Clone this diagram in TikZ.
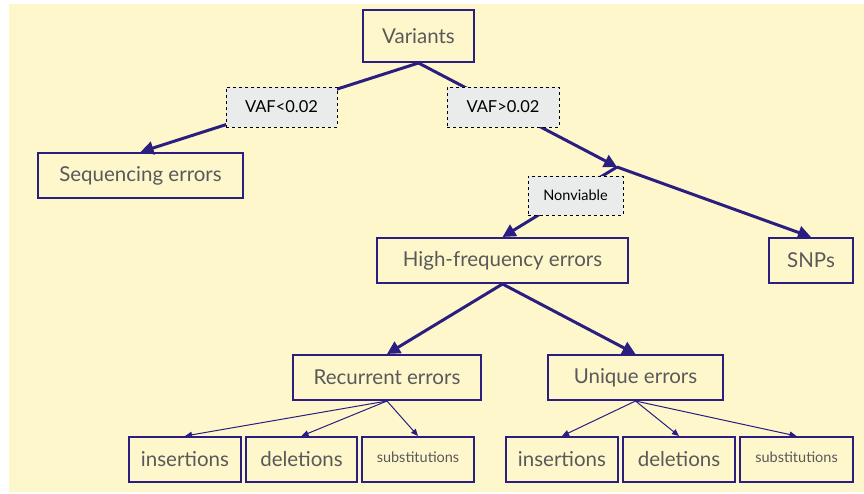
\documentclass[tikz,border=0pt]{standalone}
\usepackage{fontspec}
\setmainfont{Lato}
\usetikzlibrary{arrows.meta}
\definecolor{bgyellow}{HTML}{FFF7CC}
\definecolor{navy}{HTML}{2A1F80}
\definecolor{txtgray}{HTML}{595959}
\definecolor{labfill}{HTML}{E9ECEA}
\tikzset{
  box/.style={draw=navy, line width=2pt, fill=none, text=txtgray, inner sep=0pt,
    font=\fontsize{20.5}{24}\selectfont},
  smallbox/.style={box, font=\fontsize{14.5}{17}\selectfont},
  cond/.style={draw=black, dashed, line width=0.8pt, fill=labfill, text=black,
    inner sep=0pt, font=\fontsize{16.5}{19}\selectfont},
  thickarrow/.style={draw=navy, line width=3pt, -{Triangle[length=13pt,width=13pt]}},
  thinarrow/.style={draw=navy, line width=1pt, -{Triangle[length=7pt,width=6pt]}}
}
\begin{document}
\begin{tikzpicture}[x=1pt,y=-1pt]
\useasboundingbox (0,0) rectangle (864,494);
\fill[bgyellow] (9,4) rectangle (864,492);

% decision boxes
\node[box, minimum width=111pt, minimum height=52pt] (var) at (418.5,36) {Variants};
\node[box, minimum width=205pt, minimum height=45pt] (seq) at (140.5,175.5) {Sequencing errors};
\node[box, minimum width=251pt, minimum height=45pt] (hfe) at (502.5,260.5) {High-frequency errors};
\node[box, minimum width=84pt, minimum height=45pt] (snp) at (811,260.5) {SNPs};
\node[box, minimum width=188pt, minimum height=45pt] (rec) at (387,377.5) {Recurrent errors};
\node[box, minimum width=175pt, minimum height=45pt] (uni) at (635.5,377.5) {Unique errors};

% leaves
\node[box, minimum width=112pt, minimum height=45pt] (ins1) at (185,459.5) {insertions};
\node[box, minimum width=111pt, minimum height=45pt] (del1) at (301.5,459.5) {deletions};
\node[smallbox, minimum width=112pt, minimum height=45pt, text depth=0pt] (sub1) at (418,459.5) {\raisebox{4pt}{substitutions}};
\node[box, minimum width=112pt, minimum height=45pt] (ins2) at (562,459.5) {insertions};
\node[box, minimum width=112pt, minimum height=45pt] (del2) at (679,459.5) {deletions};
\node[smallbox, minimum width=113pt, minimum height=45pt, text depth=0pt] (sub2) at (796.5,459.5) {\raisebox{4pt}{substitutions}};

% split point on the right branch
\coordinate (split) at (617,167);

% thick connectors
\draw[thickarrow] (var.south) -- (seq.north);
\draw[thickarrow] (var.south) -- (split);
\draw[thickarrow] (split) -- (hfe.north);
\draw[thickarrow] (split) -- (snp.north);
\draw[thickarrow] (hfe.south) -- (rec.north);
\draw[thickarrow] (hfe.south) -- (uni.north);

% condition labels
\node[cond, minimum width=111pt, minimum height=40pt] (lt) at (281.5,107) {VAF<0.02};
\node[cond, minimum width=112pt, minimum height=40pt] (gt) at (503,107) {VAF>0.02};
\node[cond, minimum width=95pt, minimum height=39pt, font=\fontsize{14.5}{17}\selectfont] (nv) at (575.5,195.5) {Nonviable};

% thin connectors
\draw[thinarrow] (rec.south) -- (ins1.north);
\draw[thinarrow] (rec.south) -- (del1.north);
\draw[thinarrow] (rec.south) -- (sub1.north);
\draw[thinarrow] (uni.south) -- (ins2.north);
\draw[thinarrow] (uni.south) -- (del2.north);
\draw[thinarrow] (uni.south) -- (sub2.north);
\end{tikzpicture}
\end{document}
